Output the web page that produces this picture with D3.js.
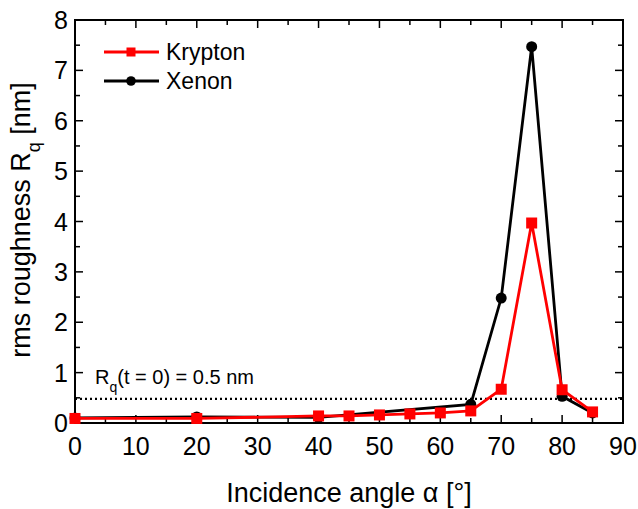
<meta charset="utf-8">
<style>body { margin: 0; } svg { display: block; }</style>
<svg width="638" height="509"></svg>
<script src="https://d3js.org/d3.v7.min.js"></script>
<script>
var angles = [0, 20, 40, 45, 50, 55, 60, 65, 70, 75, 80, 85];
var krypton = [0.09, 0.09, 0.14, 0.14, 0.16, 0.18, 0.2, 0.24, 0.67, 3.97, 0.66, 0.22];
var xenonAngles = [0, 20, 40, 65, 70, 75, 80, 85];
var xenon = [0.1, 0.12, 0.11, 0.37, 2.48, 7.47, 0.53, 0.2];
var xTicks = [0, 10, 20, 30, 40, 50, 60, 70, 80, 90];
var yTicks = [0, 1, 2, 3, 4, 5, 6, 7, 8];
var refLevel = 0.48;

var svg = d3.select("svg"),
    margin = {top: 20, right: 15, bottom: 86, left: 75},
    width = +svg.attr("width"),
    height = +svg.attr("height");

svg.append("rect").attr("width", width).attr("height", height).attr("fill", "#fff");

var x = d3.scaleLinear().domain([0, 90]).range([margin.left, width - margin.right]);
var y = d3.scaleLinear().domain([0, 8]).range([height - margin.bottom, margin.top]);

var font = "Liberation Sans, Arial, sans-serif";

// reference line
svg.append("line")
    .attr("x1", x(0)).attr("x2", x(90))
    .attr("y1", y(refLevel)).attr("y2", y(refLevel))
    .attr("stroke", "#000").attr("stroke-width", 2.2)
    .attr("stroke-dasharray", "2,3");

svg.append("text")
    .attr("x", 95).attr("y", 384)
    .attr("font-family", font).attr("font-size", "20px")
    .html('R<tspan baseline-shift="sub" font-size="14px">q</tspan>(t = 0) = 0.5 nm');

// axes frame with inward ticks on all sides
function minor(step, max) { var a = []; for (var v = 0; v <= max + 1e-9; v += step) a.push(+v.toFixed(2)); return a; }
var xMinor = minor(5, 90), yMinor = minor(0.5, 8);

var g = svg.append("g").attr("stroke", "#000").attr("stroke-width", 1.5);
xMinor.forEach(function(v) {
  var len = (v % 10 === 0) ? 8 : 5;
  g.append("line").attr("x1", x(v)).attr("x2", x(v)).attr("y1", y(0)).attr("y2", y(0) - len);
  g.append("line").attr("x1", x(v)).attr("x2", x(v)).attr("y1", y(8)).attr("y2", y(8) + len);
});
yMinor.forEach(function(v) {
  var len = (v % 1 === 0) ? 8 : 5;
  g.append("line").attr("x1", x(0)).attr("x2", x(0) + len).attr("y1", y(v)).attr("y2", y(v));
  g.append("line").attr("x1", x(90)).attr("x2", x(90) - len).attr("y1", y(v)).attr("y2", y(v));
});
svg.append("rect")
    .attr("x", x(0)).attr("y", y(8))
    .attr("width", x(90) - x(0)).attr("height", y(0) - y(8))
    .attr("fill", "none").attr("stroke", "#000").attr("stroke-width", 2);

svg.append("g").selectAll("text").data(xTicks).enter().append("text")
    .attr("x", function(d) { return x(d); }).attr("y", y(0) + 32)
    .attr("text-anchor", "middle").attr("font-family", font).attr("font-size", "25px")
    .text(function(d) { return d; });
svg.append("g").selectAll("text").data(yTicks).enter().append("text")
    .attr("x", x(0) - 7).attr("y", function(d) { return y(d) + 9; })
    .attr("text-anchor", "end").attr("font-family", font).attr("font-size", "25px")
    .text(function(d) { return d; });

svg.append("text")
    .attr("x", (x(0) + x(90)) / 2).attr("y", 502)
    .attr("text-anchor", "middle").attr("font-family", font).attr("font-size", "27px")
    .text("Incidence angle \u03b1 [\u00b0]");
svg.append("text")
    .attr("transform", "translate(30,220) rotate(-90)")
    .attr("text-anchor", "middle").attr("font-family", font).attr("font-size", "27px")
    .html('rms roughness R<tspan baseline-shift="sub" font-size="18px">q</tspan> [nm]');

// series
var line = d3.line().x(function(d) { return x(d[0]); }).y(function(d) { return y(d[1]); });
var xeData = xenonAngles.map(function(a, i) { return [a, xenon[i]]; });
var krData = angles.map(function(a, i) { return [a, krypton[i]]; });

svg.append("path").datum(xeData).attr("d", line)
    .attr("fill", "none").attr("stroke", "#000").attr("stroke-width", 2.8);
svg.append("g").selectAll("circle").data(xeData).enter().append("circle")
    .attr("cx", function(d) { return x(d[0]); }).attr("cy", function(d) { return y(d[1]); })
    .attr("r", 5.5).attr("fill", "#000");

svg.append("path").datum(krData).attr("d", line)
    .attr("fill", "none").attr("stroke", "#ff0000").attr("stroke-width", 2.8);
svg.append("g").selectAll("rect").data(krData).enter().append("rect")
    .attr("x", function(d) { return x(d[0]) - 5.5; }).attr("y", function(d) { return y(d[1]) - 5.5; })
    .attr("width", 11).attr("height", 11).attr("fill", "#ff0000");

// legend
var legend = [{name: "Krypton", color: "#ff0000", shape: "square"}, {name: "Xenon", color: "#000", shape: "circle"}];
legend.forEach(function(l, i) {
  var ly = 52 + i * 29;
  svg.append("line").attr("x1", 104).attr("x2", 159).attr("y1", ly).attr("y2", ly)
      .attr("stroke", l.color).attr("stroke-width", 2.8);
  if (l.shape === "square") {
    svg.append("rect").attr("x", 126.5).attr("y", ly - 4.5).attr("width", 9).attr("height", 9).attr("fill", l.color);
  } else {
    svg.append("circle").attr("cx", 131).attr("cy", ly).attr("r", 4.8).attr("fill", l.color);
  }
  svg.append("text").attr("x", 166).attr("y", ly + 8)
      .attr("font-family", font).attr("font-size", "23px").text(l.name);
});
</script>
